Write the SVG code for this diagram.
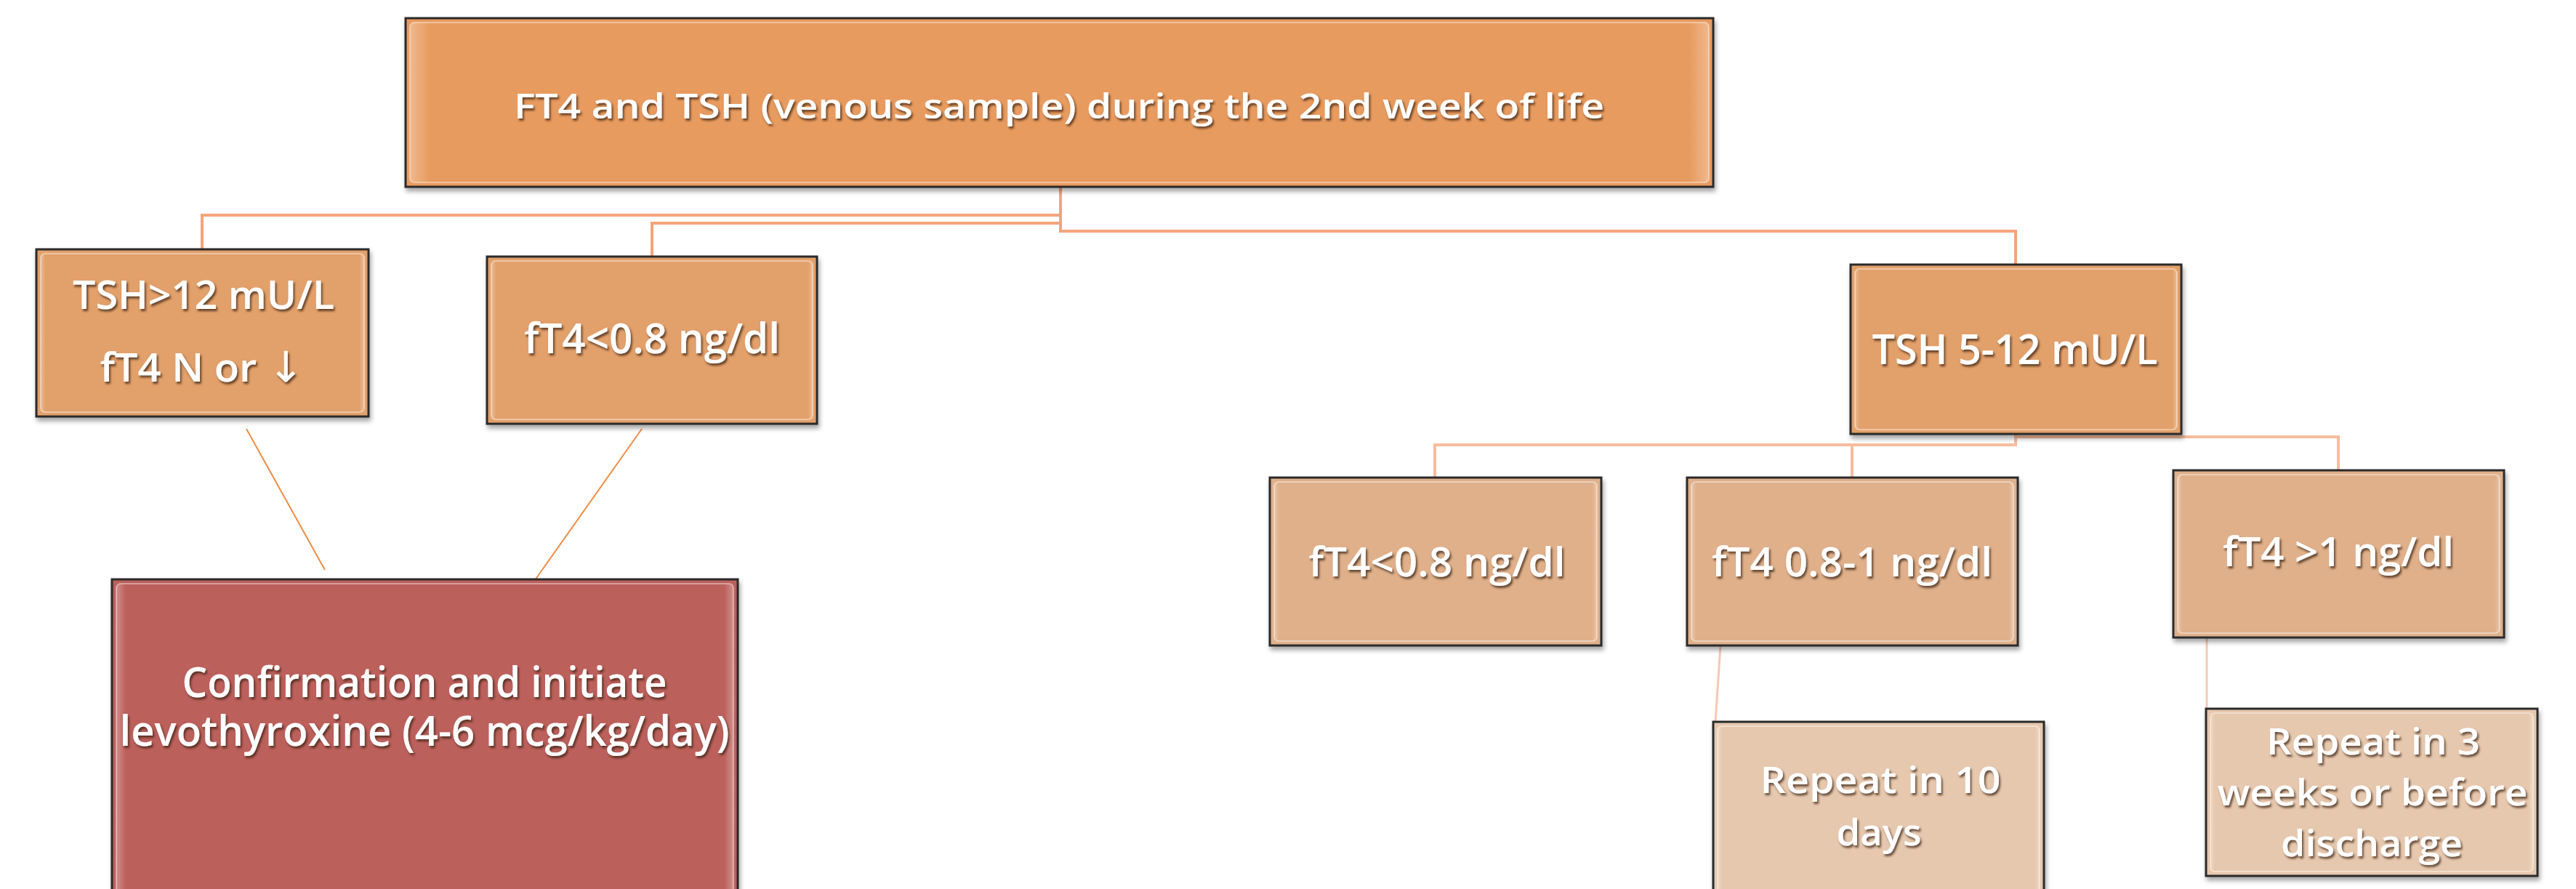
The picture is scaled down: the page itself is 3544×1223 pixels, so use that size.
<svg xmlns="http://www.w3.org/2000/svg" width="3544" height="1223" viewBox="0 0 3544 1223">
<defs>
<filter id="boxsh" x="-5%" y="-5%" width="110%" height="115%">
<feDropShadow dx="2" dy="5" stdDeviation="3" flood-color="#000" flood-opacity="0.35"/>
</filter>
<filter id="txtsh" x="-5%" y="-20%" width="110%" height="140%">
<feDropShadow dx="2" dy="3" stdDeviation="1.5" flood-color="#3a2010" flood-opacity="0.75"/>
</filter>
<linearGradient id="bevel" x1="0" y1="0" x2="1" y2="0">
<stop offset="0" stop-color="#fff" stop-opacity="0.3"/>
<stop offset="0.015" stop-color="#fff" stop-opacity="0"/>
<stop offset="0.985" stop-color="#fff" stop-opacity="0"/>
<stop offset="1" stop-color="#fff" stop-opacity="0.3"/>
</linearGradient>
</defs>
<style>
.box{stroke:#2a2a2a;stroke-width:3;filter:url(#boxsh)}
.hl{fill:url(#bevel);stroke:#fff;stroke-opacity:0.4;stroke-width:2}
.t{font-family:"Open Sans","Liberation Sans","DejaVu Sans",sans-serif;font-weight:600;fill:#fff;text-anchor:middle;filter:url(#txtsh)}
.c1{fill:#E89B5E}
.c2{fill:#E2A06A}
.c3{fill:#DFB08A}
.c4{fill:#E6C8AE}
.c5{fill:#BC615B}
.ln{fill:none;stroke:#F5A47A;stroke-width:4}
.lnl{fill:none;stroke:#F8BC9C;stroke-width:4}
.thin{fill:none;stroke:#F08C45;stroke-width:2}
.pale{fill:none;stroke:#F6C8B4;stroke-width:3}
</style>
<rect width="3544" height="1223" fill="#fff"/>
<g id="connectors">
<polyline class="ln" points="1459,257 1459,318 2773,318 2773,364"/>
<polyline class="ln" points="1459,296 278,296 278,343"/>
<polyline class="ln" points="1459,307 897,307 897,353"/>
<line class="thin" x1="339" y1="590" x2="447" y2="784"/>
<line class="thin" x1="883" y1="590" x2="736" y2="798"/>
<polyline class="lnl" points="2773,597 2773,612 1974,612 1974,657"/>
<line class="lnl" x1="2548" y1="612" x2="2548" y2="657"/>
<polyline class="lnl" points="2773,601 3217,601 3217,647"/>
<polyline class="pale" points="2367,888 2360,993"/>
<line class="pale" x1="3036" y1="877" x2="3036" y2="975"/>
</g>
<g id="n-top">
<rect class="box c1" x="558" y="25" width="1799" height="232"/>
<rect class="hl" x="564" y="31" width="1787" height="220" rx="6"/>
<text class="t" x="1457" y="163" font-size="47" textLength="1500" lengthAdjust="spacingAndGlyphs">FT4 and TSH (venous sample) during the 2nd week of life</text>
</g>
<g id="n-tsh12">
<rect class="box c2" x="50" y="343" width="457" height="230"/>
<rect class="hl" x="56" y="349" width="445" height="218" rx="6"/>
<text class="t" x="280" y="425" font-size="54" textLength="360" lengthAdjust="spacingAndGlyphs">TSH&gt;12 mU/L</text>
<text class="t" x="278" y="525" font-size="54" textLength="281" lengthAdjust="spacingAndGlyphs">fT4 N or <tspan font-family="DejaVu Sans" font-size="58" font-weight="400">↓</tspan></text>
</g>
<g id="n-ft4low1">
<rect class="box c2" x="670" y="353" width="454" height="230"/>
<rect class="hl" x="676" y="359" width="442" height="218" rx="6"/>
<text class="t" x="897" y="486" font-size="57" textLength="352" lengthAdjust="spacingAndGlyphs">fT4&lt;0.8 ng/dl</text>
</g>
<g id="n-confirm">
<rect class="box c5" x="154" y="797" width="861" height="440"/>
<rect class="hl" x="160" y="803" width="849" height="440" rx="6"/>
<text class="t" x="584" y="959" font-size="57" textLength="667" lengthAdjust="spacingAndGlyphs">Confirmation and initiate</text>
<text class="t" x="584" y="1026" font-size="57" textLength="839" lengthAdjust="spacingAndGlyphs">levothyroxine (4-6 mcg/kg/day)</text>
</g>
<g id="n-tsh512">
<rect class="box c2" x="2546" y="364" width="455" height="233"/>
<rect class="hl" x="2552" y="370" width="443" height="221" rx="6"/>
<text class="t" x="2772" y="501" font-size="58" textLength="393" lengthAdjust="spacingAndGlyphs">TSH 5-12 mU/L</text>
</g>
<g id="n-ft4low2">
<rect class="box c3" x="1747" y="657" width="456" height="231"/>
<rect class="hl" x="1753" y="663" width="444" height="219" rx="6"/>
<text class="t" x="1977" y="793" font-size="56" textLength="353" lengthAdjust="spacingAndGlyphs">fT4&lt;0.8 ng/dl</text>
</g>
<g id="n-ft4mid">
<rect class="box c3" x="2321" y="657" width="455" height="231"/>
<rect class="hl" x="2327" y="663" width="443" height="219" rx="6"/>
<text class="t" x="2548" y="793" font-size="56" textLength="386" lengthAdjust="spacingAndGlyphs">fT4 0.8-1 ng/dl</text>
</g>
<g id="n-ft4high">
<rect class="box c3" x="2990" y="647" width="455" height="230"/>
<rect class="hl" x="2996" y="653" width="443" height="218" rx="6"/>
<text class="t" x="3217" y="779" font-size="56" textLength="318" lengthAdjust="spacingAndGlyphs">fT4 &gt;1 ng/dl</text>
</g>
<g id="n-rep10">
<rect class="box c4" x="2357" y="993" width="455" height="250"/>
<rect class="hl" x="2363" y="999" width="443" height="250" rx="6"/>
<text class="t" x="2587" y="1091" font-size="50" textLength="331" lengthAdjust="spacingAndGlyphs">Repeat in 10</text>
<text class="t" x="2585" y="1163" font-size="50" textLength="117" lengthAdjust="spacingAndGlyphs">days</text>
</g>
<g id="n-rep3">
<rect class="box c4" x="3035" y="975" width="456" height="230"/>
<rect class="hl" x="3041" y="981" width="444" height="218" rx="6"/>
<text class="t" x="3265" y="1038" font-size="50" textLength="294" lengthAdjust="spacingAndGlyphs">Repeat in 3</text>
<text class="t" x="3264" y="1108" font-size="50" textLength="427" lengthAdjust="spacingAndGlyphs">weeks or before</text>
<text class="t" x="3263" y="1178" font-size="50" textLength="250" lengthAdjust="spacingAndGlyphs">discharge</text>
</g>
</svg>
